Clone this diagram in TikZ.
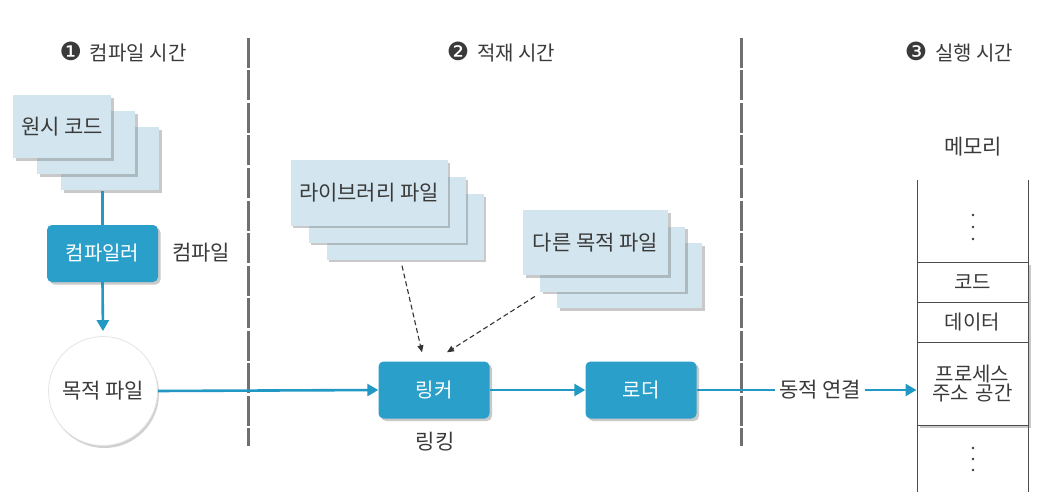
\documentclass[tikz,border=0pt]{standalone}
\usepackage{fontspec}
\setmainfont{Noto Sans CJK KR}
\newfontfamily\symfont{DejaVu Sans}
\usetikzlibrary{arrows.meta,shadows}
\definecolor{teal}{HTML}{2A9FC9}
\definecolor{lightbox}{HTML}{D3E6F0}
\definecolor{linkblue}{HTML}{2199C4}
\definecolor{txt}{HTML}{3A3A3A}
\definecolor{sep}{HTML}{707070}
\newcommand{\cnum}[1]{{\symfont\fontsize{25pt}{25pt}\selectfont #1}\hspace{8pt}}
\tikzset{
  every node/.style={font=\fontsize{21pt}{24pt}\selectfont, text=txt},
  shad/.style={drop shadow={shadow xshift=2.5pt, shadow yshift=-2.5pt, opacity=0.35, fill=black!60}},
  filebox/.style={fill=lightbox, draw=none, shad, inner sep=0pt},
  procbox/.style={fill=teal, rounded corners=5pt, shad, minimum width=111pt, minimum height=57pt, text=white, inner sep=0pt, font=\fontsize{20pt}{23pt}\selectfont},
  flow/.style={draw=linkblue, line width=2.6pt, -{Triangle[length=11pt,width=12pt]}},
  flowline/.style={draw=linkblue, line width=2.6pt},
  dep/.style={draw=black!80, line width=1.1pt, dash pattern=on 5pt off 3pt, -{Triangle[length=7pt,width=6pt]}},
  sepline/.style={draw=sep, line width=3pt, dash pattern=on 30pt off 2.5pt},
  memcell/.style={draw=black!70, line width=1pt, minimum width=111pt, inner sep=0pt, font=\fontsize{20pt}{23pt}\selectfont},
  title/.style={font=\fontsize{20pt}{23pt}\selectfont}
}
\begin{document}
\begin{tikzpicture}[x=1pt,y=-1pt]
\useasboundingbox[fill=white] (0,0) rectangle (1058,500);

% separators
\draw[sepline] (248,38) -- (248,446);
\draw[sepline] (741,38) -- (741,446);

% titles
\node[title] (t1) at (123,52) {\cnum{❶}컴파일 시간};
\node[title] (t2) at (501,52) {\cnum{❷}적재 시간};
\node[title] (t3) at (959,52) {\cnum{❸}실행 시간};

% source code stack
\node[filebox, minimum width=98pt, minimum height=63pt] (src3) at (110,159) {};
\node[filebox, minimum width=98pt, minimum height=63pt] (src2) at (86,143) {};
\node[filebox, minimum width=98pt, minimum height=63pt] (src1) at (62,127) {원시 코드};

% compiler
\node[procbox] (comp) at (102.5,253.5) {컴파일러};
\node (complabel) at (201,253) {컴파일};
\draw[flowline] (src3.south -| comp.north) -- (comp.north);

% object file circle
\node[circle, fill=white, draw=black!10, line width=0.8pt, drop shadow={shadow xshift=1.5pt, shadow yshift=-2.5pt, opacity=0.3, fill=black!60}, minimum size=109pt, inner sep=0pt] (obj) at (103,391) {목적 파일};
\draw[flow, shorten >=5pt] (comp.south) -- (obj.north);

% library stack
\node[filebox, minimum width=157pt, minimum height=65pt] (lib3) at (405,227) {};
\node[filebox, minimum width=157pt, minimum height=65pt] (lib2) at (387,210) {};
\node[filebox, minimum width=157pt, minimum height=65pt] (lib1) at (369,193) {라이브러리 파일};

% other object files stack
\node[filebox, minimum width=145pt, minimum height=65pt] (oth3) at (629.5,275.5) {};
\node[filebox, minimum width=145pt, minimum height=65pt] (oth2) at (612.5,259) {};
\node[filebox, minimum width=145pt, minimum height=65pt] (oth1) at (595.5,242.5) {다른 목적 파일};

% linker & loader
\node[procbox] (link) at (434,390) {링커};
\node (linklabel) at (435,442) {링킹};
\node[procbox] (load) at (641,390) {로더};

\draw[flow] (obj.east) -- (link.west);
\draw[flow] (link.east) -- (load.west);

\draw[dep] ([xshift=-3pt,yshift=-6pt]lib3.south) -- ([xshift=-12pt,yshift=9pt]link.north);
\draw[dep] ([xshift=-22pt,yshift=-21pt]oth3.west) -- ([xshift=13pt,yshift=9pt]link.north);

% memory
\node (memlabel) at (973,147) {메모리};
\coordinate (mtl) at (917,180);
\coordinate (mtr) at (1028,180);
\coordinate (mbl) at (917,492);
\coordinate (mbr) at (1028,492);
\draw[black!70, line width=1pt] (mtl) -- (mbl);
\draw[black!70, line width=1pt] (mtr) -- (mbr);
\node[fill=white, shad, minimum width=111pt, minimum height=163pt, inner sep=0pt] (memblock) at (972.5,343.5) {};
\node[memcell, minimum height=40pt] (code) at (972.5,282) {코드};
\node[memcell, minimum height=40pt] (data) at (972.5,322) {데이터};
\node[memcell, minimum height=83pt, align=center, text width=111pt] (proc) at (972.5,383.5) {프로세스\\[-4pt]주소 공간};

% dots
\foreach \yy in {215,227,239,448,459,470}
  \fill[txt] (973,\yy) circle (1.4pt);

% dynamic linking
\node (conn) at (820,390) {동적 연결};
\draw[flowline] (load.east) -- (conn.west);
\draw[flow] (conn.east) -- (conn.east -| proc.west);
\end{tikzpicture}
\end{document}
